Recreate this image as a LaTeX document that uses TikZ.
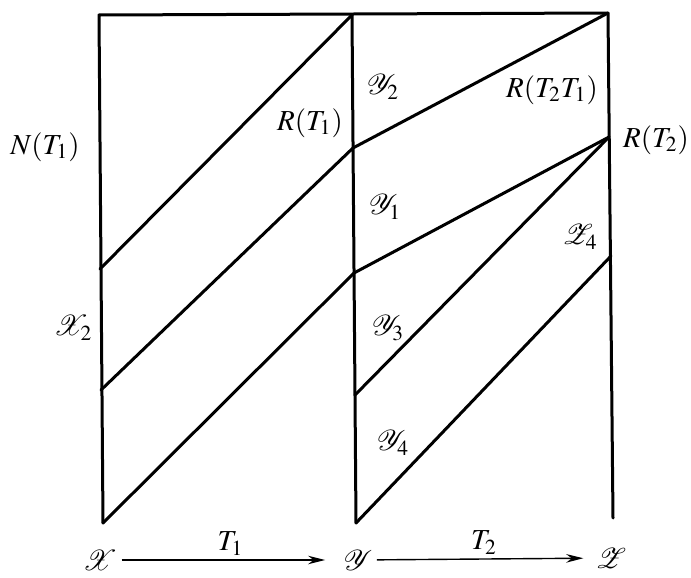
\documentclass[tikz,border=0pt]{standalone}
\usepackage{amsmath}
\usepackage{mathptmx}
\usepackage{mathrsfs}
\usetikzlibrary{positioning,arrows.meta}

\begin{document}
\begin{tikzpicture}[
  x=0.5pt, y=-0.5pt,
  edge/.style={line width=1.5pt, line cap=round, line join=round},
  arr/.style={-{Stealth[length=3mm, width=1.5mm]}, line width=0.7pt},
  lab/.style={font=\fontsize{14.5}{17}\selectfont, inner sep=1pt}
]
\useasboundingbox (0,0) rectangle (691,578);

% frame corners
\coordinate (xtop) at (99,15);
\coordinate (xbot) at (103,523);
\coordinate (ytop) at (352,15);
\coordinate (ybot) at (356,523);
\coordinate (ztop) at (608,13);
\coordinate (zbot) at (613,518);

% points on the verticals
\coordinate (x1) at (100,269);
\coordinate (x2) at (101,390);
\coordinate (y1) at (353,148);
\coordinate (y2) at (354,273);
\coordinate (y3) at (355,395);
\coordinate (r2) at (609,137);
\coordinate (z4) at (611,256);

\draw[edge] (xbot) -- (xtop) -- (ztop) -- (zbot);
\draw[edge] (ytop) -- (ybot);

% left panel
\draw[edge] (x1) -- (ytop);
\draw[edge] (x2) -- (y1);
\draw[edge] (xbot) -- (y2);

% right panel
\draw[edge] (y1) -- (ztop);
\draw[edge] (y2) -- (r2);
\draw[edge] (y3) -- (r2);
\draw[edge] (ybot) -- (z4);

% labels
\node[lab] (nt1) at (45,147) {$N(T_1)$};
\node[lab] (rt1) at (310,123) {$R(T_1)$};
\node[lab] (ysub2) at (383,87) {$\mathscr{Y}_2$};
\node[lab] (rt21) at (552,90) {$R(T_2T_1)$};
\node[lab] (rt2) at (656,140) {$R(T_2)$};
\node[lab] (ysub1) at (385,207) {$\mathscr{Y}_1$};
\node[lab] (zsub4) at (580,237) {$\mathscr{Z}_4$};
\node[lab] (xsub2) at (73,328) {$\mathscr{X}_2$};
\node[lab] (ysub3) at (388,328) {$\mathscr{Y}_3$};
\node[lab] (ysub4) at (393,443) {$\mathscr{Y}_4$};

% spaces and maps
\node[lab] (X) at (100,560) {$\mathscr{X}$};
\node[lab] (Y) at (358,560) {$\mathscr{Y}$};
\node[lab] (Z) at (611,558) {$\mathscr{Z}$};
\draw[arr, shorten <=1pt, shorten >=8pt] (X) -- node[lab, above=1pt] {$T_1$} (Y);
\draw[arr, shorten <=1pt, shorten >=5pt] (Y) -- node[lab, above=1pt] {$T_2$} (Z);
\end{tikzpicture}
\end{document}
